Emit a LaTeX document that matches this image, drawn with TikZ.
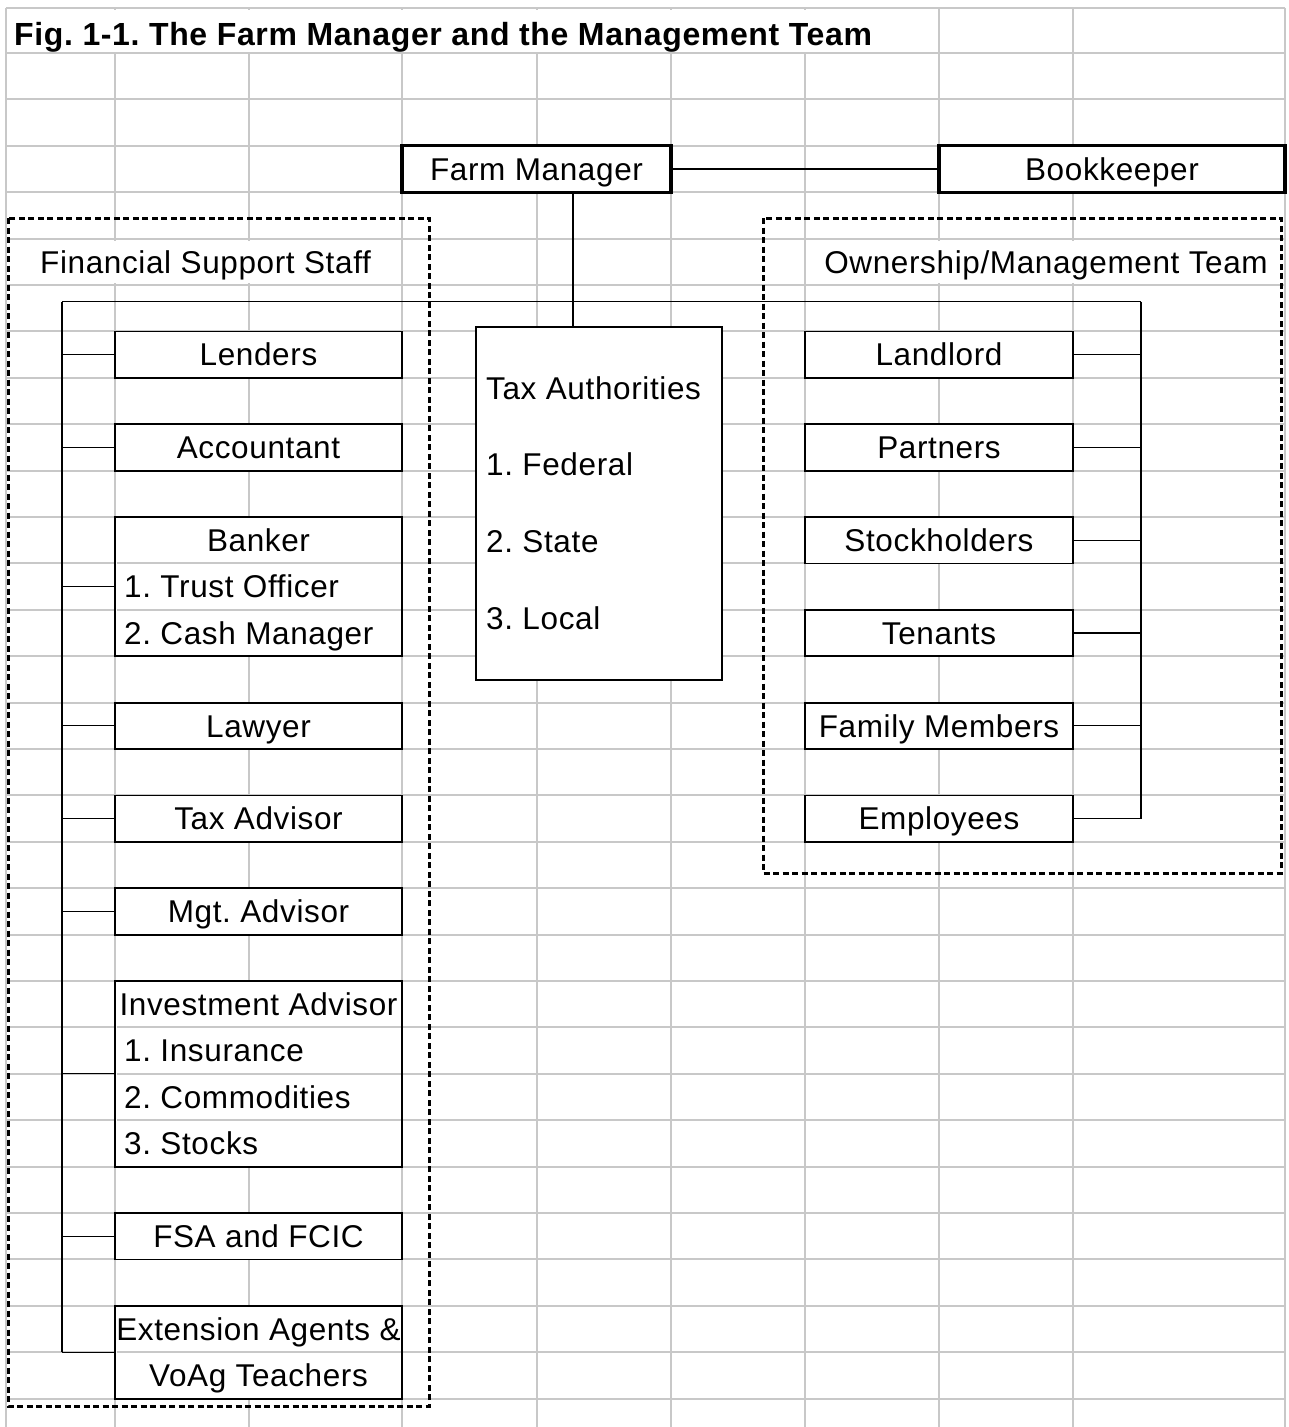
\documentclass[tikz,border=0pt]{standalone}
\usepackage{fontspec}
\setmainfont{Liberation Sans}[LetterSpace=2]
\usepackage{tikz}
\definecolor{gridgray}{RGB}{200,200,200}
\newcommand{\cellfont}{\fontsize{31.5}{38}\selectfont\frenchspacing}
\newcommand{\titlefont}{\fontsize{32}{38}\selectfont\bfseries\frenchspacing}

\begin{document}
\begin{tikzpicture}[x=1pt,y=-1pt]
    \tikzstyle{gridline}=[draw=gridgray,line width=2pt]
    \tikzstyle{cell}=[font=\cellfont,text height=22.5pt,text depth=0pt,inner sep=0pt]
    \tikzstyle{box}=[cell,draw,fill=white,line width=1.8pt,minimum height=46.4pt]
    \tikzstyle{leftbox}=[box,minimum width=287pt]
    \tikzstyle{rightbox}=[box,minimum width=268pt]
    \tikzstyle{headbox}=[box,line width=3.3pt]
    \tikzstyle{link}=[draw,line width=1.1pt]
    \tikzstyle{group}=[draw,line width=3pt,dash pattern=on 6pt off 3.5pt]

    \useasboundingbox (0,0) rectangle (1289,1427);

    % spreadsheet grid
    \foreach \x in {6,115,249,402,537,671,805,939,1073,1285}
        \draw[gridline] (\x,8) -- (\x,1427);
    \draw[gridline] (6,8) -- (1285,8);
    \foreach \j in {0,...,29}
        \draw[gridline] (6,{53+46.4*\j}) -- (1285,{53+46.4*\j});

    \node[cell,fill=white,minimum height=42pt,text height=29pt,anchor=west,font=\titlefont] (title) at (14,30.5) {Fig. 1-1. The Farm Manager and the Management Team};

    \node[headbox,minimum width=269pt] (fm) at (536.5,169) {Farm Manager};
    \node[headbox,minimum width=346pt] (bk) at (1112,169) {Bookkeeper};

    \node[cell,fill=white,minimum height=42pt,anchor=west] (fss) at (40,261.8) {Financial Support Staff};
    \node[cell,fill=white,minimum height=42pt,anchor=east] (omt) at (1268,261.8) {Ownership/Management Team};

    % left column
    \node[leftbox] (lend) at (258.5,354.6) {Lenders};
    \node[leftbox] (acct) at (258.5,447.4) {Accountant};
    \node[leftbox,minimum height=139.2pt] (bank) at (258.5,586.6) {};
    \node[leftbox] (lawy) at (258.5,725.8) {Lawyer};
    \node[leftbox] (taxa) at (258.5,818.6) {Tax Advisor};
    \node[leftbox] (mgta) at (258.5,911.4) {Mgt. Advisor};
    \node[leftbox,minimum height=185.6pt] (inva) at (258.5,1073.8) {};
    \node[leftbox] (fsa) at (258.5,1236.2) {FSA and FCIC};
    \node[leftbox,minimum height=92.8pt] (ext) at (258.5,1352.2) {};

    \foreach \y in {563.4,609.8,1027.4,1073.8,1120.2,1352.2}
        \draw[gridline] (116.5,\y) -- (400.5,\y);

    \node[cell] (bank0) at (258.5,540.2) {Banker};
    \node[cell,anchor=west] (bank1) at (124,586.6) {1. Trust Officer};
    \node[cell,anchor=west] (bank2) at (124,633) {2. Cash Manager};
    \node[cell] (inva0) at (258.5,1004.2) {Investment Advisor};
    \node[cell,anchor=west] (inva1) at (124,1050.6) {1. Insurance};
    \node[cell,anchor=west] (inva2) at (124,1097) {2. Commodities};
    \node[cell,anchor=west] (inva3) at (124,1143.4) {3. Stocks};
    \node[cell] (ext0) at (258.5,1329) {Extension Agents \&};
    \node[cell] (ext1) at (258.5,1375.4) {VoAg Teachers};

    % middle
    \node[draw,fill=white,line width=1.8pt,minimum width=246pt,minimum height=353pt] (tax) at (599,503.5) {};
    \node[cell,anchor=west] (tax0) at (486,388) {Tax Authorities};
    \node[cell,anchor=west] (tax1) at (486,464.5) {1. Federal};
    \node[cell,anchor=west] (tax2) at (486,541) {2. State};
    \node[cell,anchor=west] (tax3) at (486,618) {3. Local};

    % right column
    \node[rightbox] (land) at (939,354.6) {Landlord};
    \node[rightbox] (part) at (939,447.4) {Partners};
    \node[rightbox] (stoc) at (939,540.2) {Stockholders};
    \node[rightbox] (tena) at (939,633) {Tenants};
    \node[rightbox] (fami) at (939,725.8) {Family Members};
    \node[rightbox] (empl) at (939,818.6) {Employees};

    % connectors
    \coordinate (hubL) at (62,301.7);
    \coordinate (hubR) at (1141,301.7);
    \coordinate (drop) at (573,301.7);
    \draw[link] (fm) -- (bk);
    \draw[link] (hubL) -- (hubR);
    \draw[link] (fm.south -| drop) -- (tax.north -| drop);
    \draw[link] (hubL) -- (hubL |- ext.west);
    \foreach \n in {lend,acct,bank,lawy,taxa,mgta,inva,fsa,ext}
        \draw[link] (hubL |- \n.west) -- (\n.west);
    \draw[link] (hubR) -- (hubR |- empl.east);
    \foreach \n in {land,part,stoc,tena,fami,empl}
        \draw[link] (\n.east) -- (hubR |- \n.east);

    \draw[group] (8,218) rectangle (429,1406);
    \draw[group] (763,218) rectangle (1281,873);
\end{tikzpicture}
\end{document}
